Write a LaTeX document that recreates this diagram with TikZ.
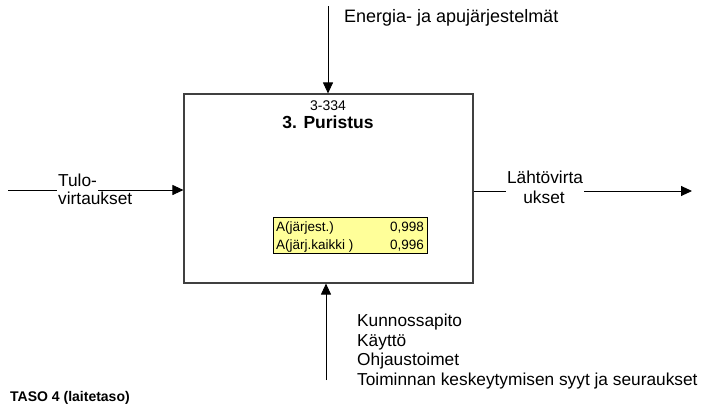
\documentclass[tikz,border=0pt]{standalone}
\usepackage{fontspec}
\setmainfont{Liberation Sans}
\usetikzlibrary{arrows.meta}
\definecolor{boxline}{HTML}{404040}
\definecolor{availfill}{HTML}{FFFF99}
\begin{document}
\begin{tikzpicture}[x=1pt,y=-1pt,
  flow/.style={draw=black,line width=0.9pt,-{Triangle[length=11pt,width=10pt]}},
  lbl/.style={inner sep=0pt,font=\fontsize{17.3}{19.5}\selectfont},
  tbl/.style={inner sep=0pt,font=\fontsize{13.5}{16}\selectfont},
  cut/.style={fill=white,inner xsep=1.5pt,inner ysep=0.5pt}]
\useasboundingbox (0,0) rectangle (704,405);

% activity box
\node[draw=boxline,line width=1.1pt,minimum width=289pt,minimum height=189pt,inner sep=0pt]
  (box) at (328.5,188.5) {};
\node[inner sep=0pt,anchor=base,font=\fontsize{14}{16}\selectfont] (code) at (328,110) {3-334};
\node[inner sep=0pt,anchor=base,font=\fontsize{17.5}{20}\selectfont\bfseries] (title) at (328,128) {3. Puristus};

% availability table
\node[draw=black,line width=1pt,fill=availfill,minimum width=154pt,minimum height=36pt,inner sep=0pt]
  (avail) at (350,235) {};
\node[tbl,anchor=base west] (a1) at (276,231) {A(järjest.)};
\node[tbl,anchor=base east] (v1) at (424,231) {0,998};
\node[tbl,anchor=base west] (a2) at (276,249) {A(järj.kaikki )};
\node[tbl,anchor=base east] (v2) at (424,249) {0,996};

% connectors
\coordinate (topsrc) at (328,6);
\coordinate (botsrc) at (326,380);
\coordinate (leftsrc) at (8,190);
\coordinate (rightdst) at (692,191);
\draw[flow] (topsrc) -- (topsrc |- box.north);
\draw[flow] (botsrc) -- (botsrc |- box.south);
\draw[flow] (leftsrc) -- (leftsrc -| box.west);
\draw[flow] (rightdst -| box.east) -- (rightdst);

% labels (the first line of each side label masks its arrow)
\node[lbl,font=\fontsize{18}{20}\selectfont,anchor=base west] (mech) at (344,22) {Energia- ja apujärjestelmät};
\node[lbl,cut,text depth=5pt,anchor=base west] (in1) at (56.5,186) {Tulo-};
\node[lbl,anchor=base west] (in2) at (58,204) {virtaukset};
\node[lbl,cut,text depth=9pt,anchor=base] (out1) at (545,183) {Lähtövirta};
\node[lbl,anchor=base] (out2) at (544,203) {ukset};
\node[lbl,anchor=base west] (c1) at (357,326) {Kunnossapito};
\node[lbl,anchor=base west] (c2) at (357,346) {Käyttö};
\node[lbl,anchor=base west] (c3) at (357,365) {Ohjaustoimet};
\node[lbl,anchor=base west] (c4) at (357,385) {Toiminnan keskeytymisen syyt ja seuraukset};

\node[inner sep=0pt,anchor=base west,font=\fontsize{14}{16}\selectfont\bfseries] (level) at (10,401) {TASO 4 (laitetaso)};
\end{tikzpicture}
\end{document}
